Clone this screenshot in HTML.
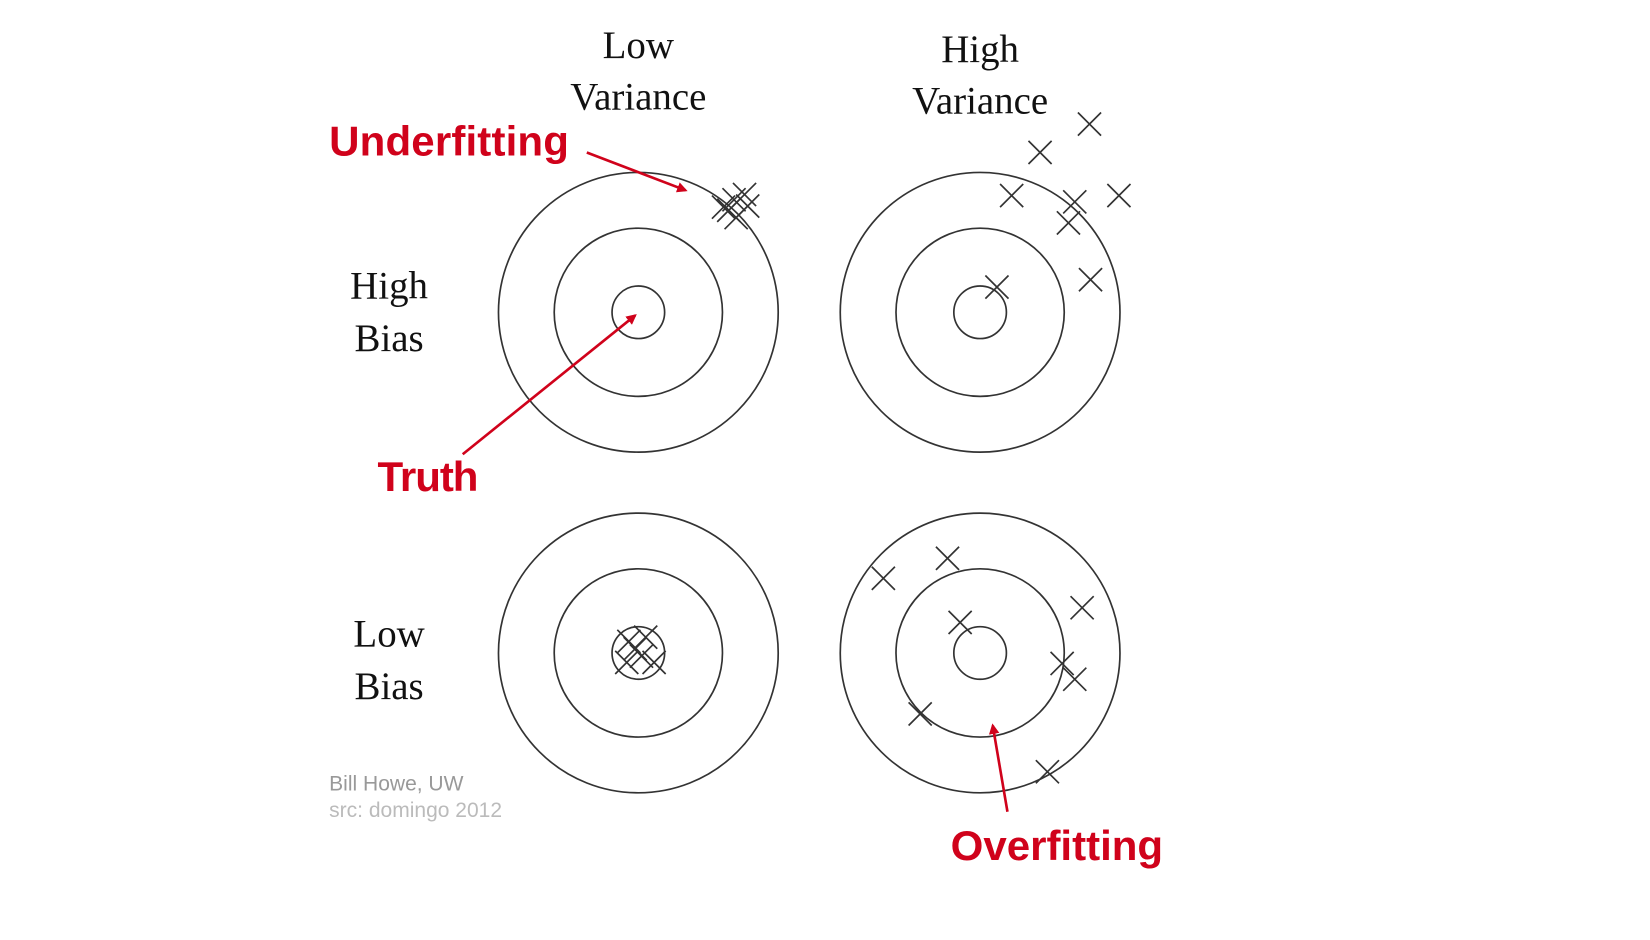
<!DOCTYPE html>
<html><head><meta charset="utf-8"><style>
html,body{margin:0;padding:0;background:#fff;}
svg{display:block;}
.s{font-family:"Liberation Serif",serif;font-size:37px;fill:#111;text-anchor:middle;}
.r{font-family:"Liberation Sans",sans-serif;font-weight:bold;font-size:40px;fill:#d0021b;}
.g{font-family:"Liberation Sans",sans-serif;font-size:20px;}
</style></head><body>
<svg width="1650" height="940" viewBox="0 0 1569 894" preserveAspectRatio="none">
<rect width="1569" height="894" fill="#fff"/>
<defs>
<marker id="a" markerWidth="10" markerHeight="10" refX="8" refY="5" orient="auto" markerUnits="userSpaceOnUse">
<path d="M0,0 L10,5 L0,10 z" fill="#d0021b"/></marker>
<path id="x" d="M-11,-11 L11,11 M-11,11 L11,-11" stroke="#333" stroke-width="1.6" fill="none"/>
</defs>
<g fill="none" stroke="#333" stroke-width="1.6">
<circle cx="607" cy="297" r="133"/><circle cx="607" cy="297" r="80"/><circle cx="607" cy="297" r="25"/>
<circle cx="932" cy="297" r="133"/><circle cx="932" cy="297" r="80"/><circle cx="932" cy="297" r="25"/>
<circle cx="607" cy="621" r="133"/><circle cx="607" cy="621" r="80"/><circle cx="607" cy="621" r="25"/>
<circle cx="932" cy="621" r="133"/><circle cx="932" cy="621" r="80"/><circle cx="932" cy="621" r="25"/>
</g>
<g>
<use href="#x" x="688" y="197"/><use href="#x" x="698" y="190"/><use href="#x" x="708" y="185"/>
<use href="#x" x="700" y="207"/><use href="#x" x="693" y="200"/><use href="#x" x="711" y="196"/>
<use href="#x" x="1036" y="118"/><use href="#x" x="989" y="145"/><use href="#x" x="962" y="186"/>
<use href="#x" x="1022" y="192"/><use href="#x" x="1064" y="186"/><use href="#x" x="1016" y="212"/>
<use href="#x" x="1037" y="266"/><use href="#x" x="948" y="273"/>
<use href="#x" x="598" y="610"/><use href="#x" x="614" y="606"/><use href="#x" x="596" y="630"/>
<use href="#x" x="610" y="624"/><use href="#x" x="622" y="630"/><use href="#x" x="604" y="617"/>
<use href="#x" x="840" y="550"/><use href="#x" x="901" y="531"/><use href="#x" x="1029" y="578"/>
<use href="#x" x="913" y="592"/><use href="#x" x="1010" y="631"/><use href="#x" x="1022" y="646"/>
<use href="#x" x="875" y="679"/><use href="#x" x="996" y="734"/>
</g>
<text class="s" x="607" y="55">Low</text><text class="s" x="607" y="104">Variance</text>
<text class="s" x="932" y="59">High</text><text class="s" x="932" y="108">Variance</text>
<text class="s" x="370" y="284">High</text><text class="s" x="370" y="334">Bias</text>
<text class="s" x="370" y="615">Low</text><text class="s" x="370" y="665">Bias</text>
<g stroke="#d0021b" stroke-width="2.5" fill="none">
<line x1="558" y1="145" x2="652" y2="181" marker-end="url(#a)"/>
<line x1="440" y1="432" x2="604" y2="300" marker-end="url(#a)"/>
<line x1="958" y1="772" x2="944" y2="690" marker-end="url(#a)"/>
</g>
<text class="r" x="313" y="148" textLength="228">Underfitting</text>
<text class="r" x="359" y="467" textLength="96">Truth</text>
<text class="r" x="904" y="818" textLength="202">Overfitting</text>
<text class="g" x="313" y="752" fill="#999">Bill Howe, UW</text>
<text class="g" x="313" y="777" fill="#bbb">src: domingo 2012</text>
</svg>
</body></html>
